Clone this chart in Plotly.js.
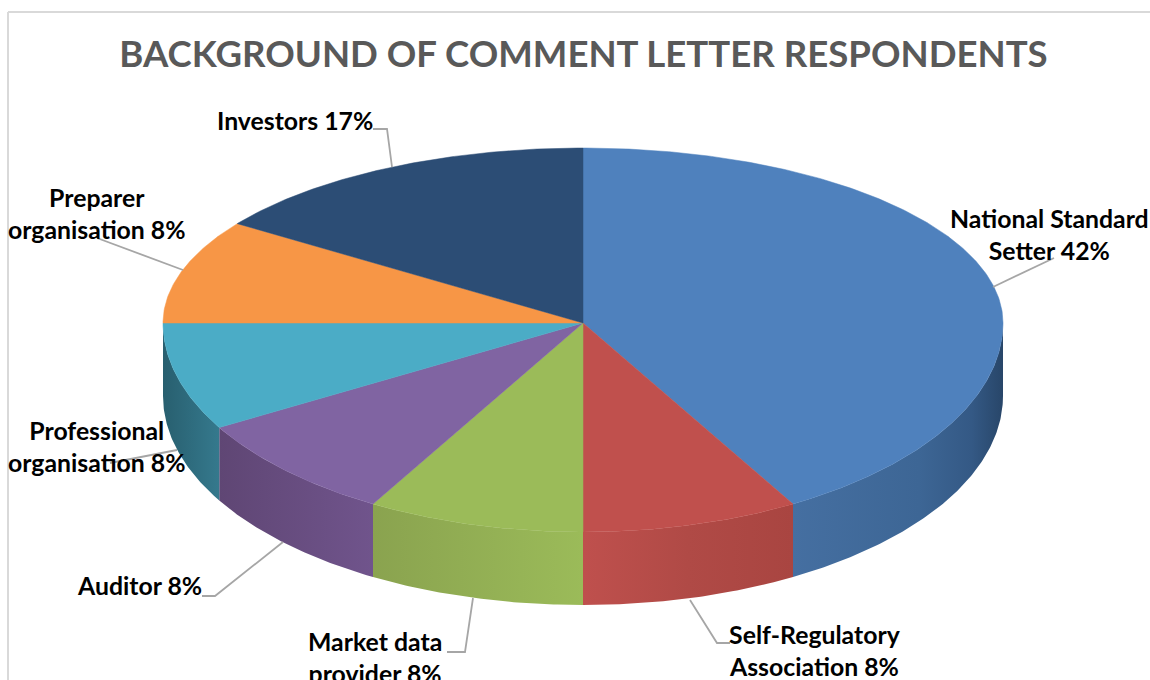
<!DOCTYPE html>
<html>
<head>
<meta charset="utf-8">
<script src="https://cdn.plot.ly/plotly-3.0.1.min.js"></script>
<style>html,body{margin:0;padding:0;background:#fff;overflow:hidden}#chart{width:1150px;height:680px}</style>
</head>
<body>
<div id="chart"></div>
<script>
// Data
var categories = ['National Standard<br>Setter', 'Self-Regulatory<br>Association', 'Market data<br>provider', 'Auditor', 'Professional<br>organisation', 'Preparer<br>organisation', 'Investors'];
var respondents = [5, 1, 1, 1, 1, 1, 2];
var topColors = ['#4f81bd', '#c0504d', '#9bbb59', '#8064a2', '#4bacc6', '#f79646', '#2c4d75'];
var wallColors = [
  [[0, '#456fa1'], [0.6, '#3d6695'], [0.85, '#345985'], [1, '#284669']],
  [[0, '#bf504d'], [0.5, '#b04a46'], [1, '#a94541']],
  [[0, '#8aa34f'], [1, '#9bbb59']],
  [[0, '#5f4674'], [1, '#70548c']],
  [[0, '#285f6f'], [1, '#35798d']]
];
var labelX = [1049, 815, 375, 139, 97, 97, 295];
var labelY = [234, 650, 657, 585, 446, 213, 120];
var leaders = [
  [[1054, 993], [258, 287]],
  [[730, 717, 690], [643, 643, 600]],
  [[447, 465, 473], [652, 652, 598]],
  [[202, 215, 283], [596, 596, 542]],
  [[110, 177], [463, 450]],
  [[97, 183], [238, 270]],
  [[373, 387, 392], [129, 129, 167]]
];

// Pie geometry
var cx = 583, cy = 323, rx = 420, ryTop = 175, ryBottom = 209, depth = 73, warp = 0.837;
function rimPoint(deg) {
  var a = deg * Math.PI / 180;
  if (deg > 90 && deg < 270) {
    return [cx + rx * Math.sin(a), cy - ryBottom * Math.cos(a)];
  }
  var t = deg <= 90 ? deg : deg - 360;
  var r = t * Math.PI / 180;
  var phi = Math.abs(t) >= 90 ? r : Math.atan(warp * Math.tan(r));
  return [cx + rx * Math.sin(phi), cy - ryTop * Math.cos(phi)];
}
var total = respondents.reduce(function (s, v) { return s + v; }, 0);
var traces = [], annotations = [], start = 0;
var wallTraces = [], topTraces = [], leaderTraces = [];

respondents.forEach(function (v, i) {
  var end = start + v / total * 360;
  // top face
  var xs = [cx], ys = [cy], d, p;
  for (d = start; d < end; d += 0.5) { p = rimPoint(d); xs.push(p[0]); ys.push(p[1]); }
  p = rimPoint(end); xs.push(p[0], cx); ys.push(p[1], cy);
  topTraces.push({x: xs, y: ys, mode: 'lines', fill: 'toself', fillcolor: topColors[i],
    line: {width: 0.5, color: topColors[i]}, hoverinfo: 'skip', showlegend: false});
  // side wall
  var a = Math.max(start, 90), b = Math.min(end, 270);
  if (b > a) {
    var wx = [], wy = [], bx = [], by = [];
    for (d = a; d < b; d += 0.5) { p = rimPoint(d); wx.push(p[0]); wy.push(p[1]); bx.unshift(p[0]); by.unshift(p[1] + depth); }
    p = rimPoint(b); wx.push(p[0]); wy.push(p[1]); bx.unshift(p[0]); by.unshift(p[1] + depth);
    wallTraces.push({x: wx.concat(bx), y: wy.concat(by), mode: 'lines', fill: 'toself',
      fillgradient: {type: 'horizontal', colorscale: wallColors[i]},
      line: {width: 0}, hoverinfo: 'skip', showlegend: false});
  }
  // leader
  leaderTraces.push({x: leaders[i][0], y: leaders[i][1], mode: 'lines',
    line: {width: 1.8, color: '#a6a6a6'}, hoverinfo: 'skip', showlegend: false});
  // label
  annotations.push({xref: 'x', yref: 'y', x: labelX[i], y: labelY[i], showarrow: false,
    text: '<b>' + categories[i] + ' ' + Math.round(v / total * 100) + '%</b>',
    align: 'center', xanchor: 'center', yanchor: 'middle',
    font: {family: 'Lato', size: 24.8, color: '#000000'}});
  start = end;
});

traces = wallTraces.concat(topTraces, leaderTraces);

var layout = {
  width: 1150, height: 680,
  margin: {l: 0, r: 0, t: 0, b: 0},
  paper_bgcolor: '#ffffff', plot_bgcolor: '#ffffff',
  showlegend: false,
  hovermode: false,
  title: {text: '<b>BACKGROUND OF COMMENT LETTER RESPONDENTS</b>', x: 583.5 / 1150, xanchor: 'center',
    y: 1 - 54 / 680, yanchor: 'middle', font: {family: 'Lato', size: 36.6, color: '#595959'}},
  xaxis: {range: [0, 1150], visible: false, fixedrange: true},
  yaxis: {range: [680, 0], visible: false, fixedrange: true},
  shapes: [
    {type: 'line', xref: 'x', yref: 'y', x0: 8, x1: 8, y0: 12, y1: 680, line: {color: '#d9d9d9', width: 2}},
    {type: 'line', xref: 'x', yref: 'y', x0: 8, x1: 1150, y0: 12, y1: 12, line: {color: '#d9d9d9', width: 2}}
  ],
  annotations: annotations
};
Plotly.newPlot('chart', traces, layout, {displayModeBar: false, staticPlot: true});
</script>
</body>
</html>
